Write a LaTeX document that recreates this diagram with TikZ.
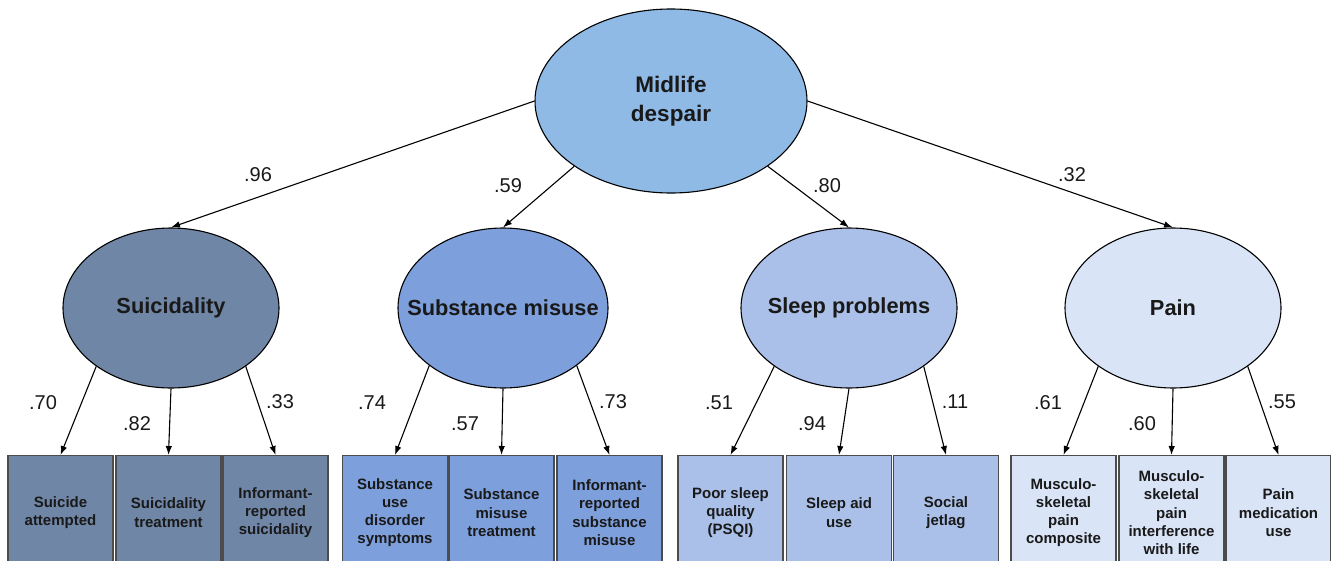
\documentclass[tikz,border=0pt]{standalone}
\usepackage{fontspec}
\setmainfont{Liberation Sans}
\usetikzlibrary{shapes.geometric,arrows.meta}
\definecolor{cTop}{RGB}{142,186,229}
\definecolor{cSui}{RGB}{112,134,166}
\definecolor{cSub}{RGB}{125,159,219}
\definecolor{cSlp}{RGB}{170,192,232}
\definecolor{cPain}{RGB}{217,228,246}
\tikzset{
  latent/.style={ellipse, draw=black, line width=1.1pt, minimum width=216pt, minimum height=160pt,
    inner sep=0pt, align=center, text=black!90, font=\fontsize{21.8}{28.5}\selectfont\bfseries},
  obs/.style={rectangle, draw=black!70, line width=1.3pt, minimum width=105pt, minimum height=114pt,
    anchor=north, align=center, inner sep=0pt, text=black!90, font=\fontsize{15}{18.3}\selectfont\bfseries},
  conn/.style={line width=1.1pt, -{Latex[length=9pt,width=6.5pt]}},
  coef/.style={inner sep=0pt, text=black!90, font=\fontsize{20}{24}\selectfont},
}
\begin{document}
\begin{tikzpicture}[x=1pt,y=-1pt]
\useasboundingbox (0,0) rectangle (1331,560);
% latent variables
\node[latent, fill=cTop, minimum width=272pt, minimum height=184pt, font=\fontsize{22.5}{29}\selectfont\bfseries] (top) at (671,101) {Midlife\\despair};
\node[latent, fill=cSui]  (sui)  at (171,308) {\makebox[0pt]{Suicidality}};
\node[latent, fill=cSub, minimum width=210pt]  (sub)  at (503,308) {\makebox[0pt]{Substance misuse}};
\node[latent, fill=cSlp]  (slp)  at (849,308) {\makebox[0pt]{Sleep problems}};
\node[latent, fill=cPain] (pain) at (1173,308) {\makebox[0pt]{Pain}};
% observed indicators
\node[obs, fill=cSui] (s1) at (60.5,455) {Suicide\\attempted};
\node[obs, fill=cSui] (s2) at (168.5,455) {Suicidality\\treatment};
\node[obs, fill=cSui] (s3) at (275.5,455) {Informant-\\reported\\suicidality};
\node[obs, fill=cSub] (u1) at (395,455) {Substance\\use\\disorder\\symptoms};
\node[obs, fill=cSub] (u2) at (501.5,455) {Substance\\misuse\\treatment};
\node[obs, fill=cSub] (u3) at (609.5,455) {Informant-\\reported\\substance\\misuse};
\node[obs, fill=cSlp] (l1) at (730.5,455) {Poor sleep\\quality\\(PSQI)};
\node[obs, fill=cSlp] (l2) at (839,455) {Sleep aid\\use};
\node[obs, fill=cSlp] (l3) at (946,455) {Social\\jetlag};
\node[obs, fill=cPain] (p1) at (1063.5,455) {Musculo-\\skeletal\\pain\\composite};
\node[obs, fill=cPain] (p2) at (1171.5,455) {Musculo-\\skeletal\\pain\\interference\\with life};
\node[obs, fill=cPain] (p3) at (1278.5,455) {Pain\\medication\\use};
% top-level paths
\draw[conn] (top.west) -- (sui.north);
\draw[conn] (top.214) -- (sub.north);
\draw[conn] (top.326) -- (slp.north);
\draw[conn] (top.east) -- (pain.north);
% indicator paths
\draw[conn] (sui.218) -- (s1.north);
\draw[conn] (sui.south) -- (s2.north);
\draw[conn] (sui.322) -- (s3.north);
\draw[conn] (sub.218) -- (u1.north);
\draw[conn] (sub.south) -- (u2.north);
\draw[conn] (sub.322) -- (u3.north);
\draw[conn] (slp.218) -- (l1.north);
\draw[conn] (slp.south) -- (l2.north);
\draw[conn] (slp.322) -- (l3.north);
\draw[conn] (pain.218) -- (p1.north);
\draw[conn] (pain.south) -- (p2.north);
\draw[conn] (pain.322) -- (p3.north);
% coefficients
\node[coef] (k1) at (258,175) {.96};
\node[coef] (k2) at (508,186) {.59};
\node[coef] (k3) at (827,186) {.80};
\node[coef] (k4) at (1072,175) {.32};
\node[coef] (a1) at (43,403) {.70};
\node[coef] (a2) at (137,424) {.82};
\node[coef] (a3) at (280,402) {.33};
\node[coef] (b1) at (372,403) {.74};
\node[coef] (b2) at (465,424) {.57};
\node[coef] (b3) at (613,402) {.73};
\node[coef] (c1) at (719,403) {.51};
\node[coef] (c2) at (812,424) {.94};
\node[coef] (c3) at (955,402) {.11};
\node[coef] (d1) at (1048,403) {.61};
\node[coef] (d2) at (1142,424) {.60};
\node[coef] (d3) at (1282,402) {.55};
\end{tikzpicture}
\end{document}
